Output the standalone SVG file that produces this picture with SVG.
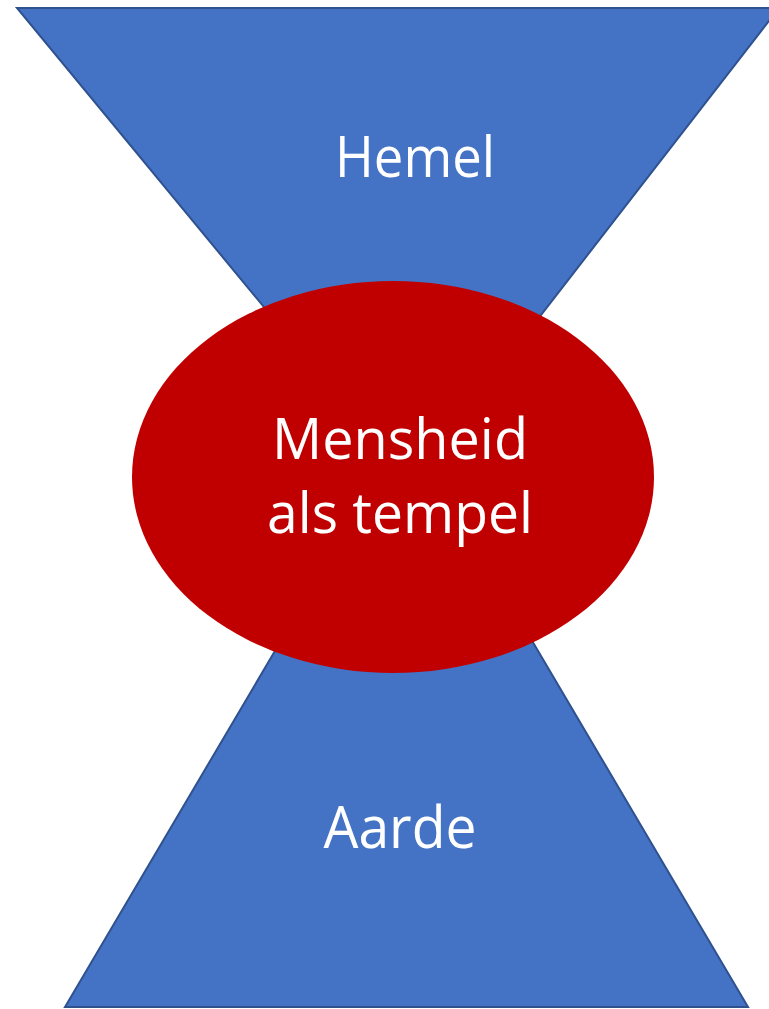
<svg xmlns="http://www.w3.org/2000/svg" width="769" height="1009" viewBox="0 0 769 1009">
<style>
.tri{fill:#4472C4;stroke:#2F528F;stroke-width:2;stroke-linejoin:miter}
.ell{fill:#C00000}
.lbl{fill:#FFFFFF;font-family:"Open Sans","Noto Sans","Liberation Sans",sans-serif;text-anchor:middle}
</style>
<rect width="769" height="1009" fill="#FFFFFF"/>
<g id="hemel">
<polygon class="tri" points="17,8 779,8 410,484"/>
<text class="lbl" x="415" y="177" font-size="57" textLength="160" lengthAdjust="spacingAndGlyphs">Hemel</text>
</g>
<g id="aarde">
<polygon class="tri" points="65,1007 748,1007 406.5,428"/>
<text class="lbl" x="400" y="848" font-size="59" textLength="153" lengthAdjust="spacingAndGlyphs">Aarde</text>
</g>
<g id="mensheid">
<ellipse class="ell" cx="393" cy="477" rx="261" ry="196"/>
<text class="lbl" font-size="56"><tspan x="400" y="459" textLength="256" lengthAdjust="spacingAndGlyphs">Mensheid</tspan><tspan x="400" y="533" textLength="266" lengthAdjust="spacingAndGlyphs">als tempel</tspan></text>
</g>
<g id="connectors"/>
</svg>
